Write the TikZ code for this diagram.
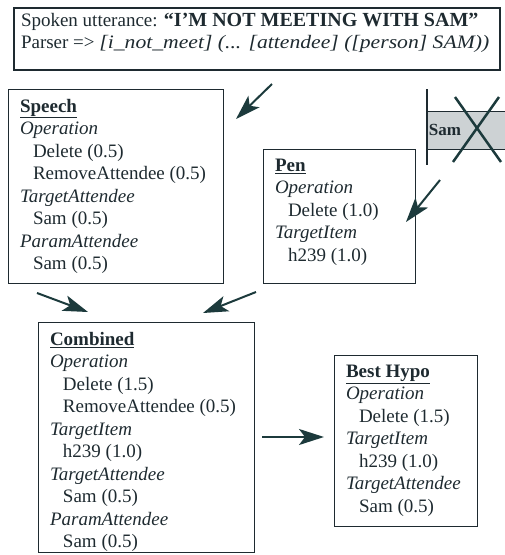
\documentclass[tikz,border=0pt]{standalone}
\usepackage{fontspec}
\setmainfont{Liberation Serif}
\usetikzlibrary{arrows.meta}
\definecolor{ink}{RGB}{30,42,48}
\definecolor{arrowink}{RGB}{28,58,60}
\definecolor{bandgray}{RGB}{205,210,212}
\newcommand{\myind}{\hspace*{13pt}}
\begin{document}
\begin{tikzpicture}[x=1pt,y=-1pt,
  every node/.style={inner sep=0pt, outer sep=0pt},
  panel/.style={draw=ink, line width=1pt, anchor=north west},
  txt/.style={anchor=north west, align=left, text=ink, font=\fontsize{19}{22.5}\selectfont},
  bigarrow/.style={draw=arrowink, line width=2pt, -{Stealth[length=25pt,width=16pt,inset=6pt]}}
]
\useasboundingbox (0,0) rectangle (505,555);

% panels
\node[panel, line width=1.3pt, minimum width=486pt, minimum height=62pt] (top) at (14,8) {};
\node[panel, minimum width=215pt, minimum height=194pt] (speech) at (8,89) {};
\node[panel, minimum width=152pt, minimum height=134pt] (pen) at (263,149) {};
\node[panel, minimum width=216pt, minimum height=230pt] (combined) at (38,322) {};
\node[panel, minimum width=143pt, minimum height=171pt] (best) at (334,355) {};

% texts
\node[txt] (toptxt) at (21,13) {Spoken utterance: {\bfseries\fontsize{20}{22.5}\selectfont “I'M NOT MEETING WITH SAM"}\\
Parser => {\itshape\addfontfeature{FakeStretch=1.14}[i\_not\_meet] (... [attendee] ([person] SAM))}};

\node[txt] (speechtxt) at (20,99) {\underline{\textbf{Speech}}\\
\textit{Operation}\\
\myind Delete (0.5)\\
\myind RemoveAttendee (0.5)\\
\textit{TargetAttendee}\\
\myind Sam (0.5)\\
\textit{ParamAttendee}\\
\myind Sam (0.5)};

\node[txt] (pentxt) at (275,159) {\underline{\textbf{Pen}}\\
\textit{Operation}\\
\myind Delete (1.0)\\
\textit{TargetItem}\\
\myind h239 (1.0)};

\node[txt] (combtxt) at (50,332) {\underline{\textbf{Combined}}\\
\textit{Operation}\\
\myind Delete (1.5)\\
\myind RemoveAttendee (0.5)\\
\textit{TargetItem}\\
\myind h239 (1.0)\\
\textit{TargetAttendee}\\
\myind Sam (0.5)\\
\textit{ParamAttendee}\\
\myind Sam (0.5)};

\node[txt] (besttxt) at (346,365) {\underline{\textbf{Best Hypo}}\\
\textit{Operation}\\
\myind Delete (1.5)\\
\textit{TargetItem}\\
\myind h239 (1.0)\\
\textit{TargetAttendee}\\
\myind Sam (0.5)};

% crossed-out pen gesture
\fill[bandgray] (427,111) rectangle (505,149);
\draw[ink, line width=0.8pt] (427,111) -- (505,111) (427,149) -- (505,149);
\draw[ink, line width=1.2pt] (427,89) -- (427,165);
\node[font=\bfseries\fontsize{17}{17}\selectfont, text=ink] (sam) at (445,130) {Sam};
\draw[arrowink, line width=2.5pt] (455,97) -- (501,162) (499,97) -- (453,162);

% arrow end points
\coordinate (a1s) at (272,84);  \coordinate (a1e) at (236,119);
\coordinate (a2s) at (440,180); \coordinate (a2e) at (406,222);
\coordinate (a3s) at (37,293);  \coordinate (a3e) at (88,312);
\coordinate (a4s) at (256,292); \coordinate (a4e) at (203,313);
\coordinate (a5s) at (262,437); \coordinate (a5e) at (324,437);

\draw[bigarrow] (a1s) -- (a1e);
\draw[bigarrow] (a2s) -- (a2e);
\draw[bigarrow] (a3s) -- (a3e);
\draw[bigarrow] (a4s) -- (a4e);
\draw[bigarrow] (a5s) -- (a5e);
\end{tikzpicture}
\end{document}
